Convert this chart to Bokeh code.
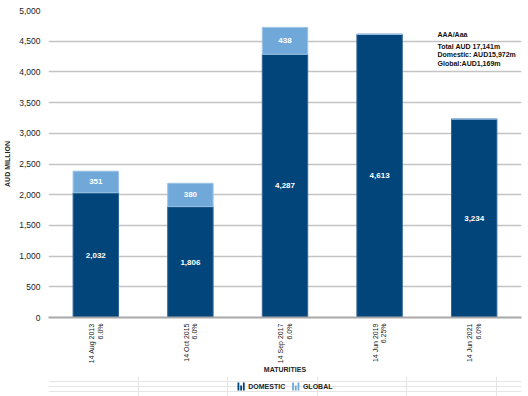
import math
from bokeh.plotting import figure
from bokeh.layouts import column
from bokeh.models import (Range1d, FactorRange, Label, ColumnDataSource,
                          NumeralTickFormatter, FixedTicker)
from bokeh.core.properties import value
from bokeh.embed import file_html
from bokeh.resources import INLINE

# ---- data ----
maturities = ["14 Aug 2013", "14 Oct 2015", "14 Sep 2017", "14 Jun 2019", "14 Jun 2021"]
coupons = ["6.0%", "6.0%", "6.0%", "6.25%", "6.0%"]
domestic = [2032, 1806, 4287, 4613, 3234]
global_ = [351, 380, 438, 0, 0]
y_ticks = [0, 500, 1000, 1500, 2000, 2500, 3000, 3500, 4000, 4500, 5000]
note_title = "AAA/Aaa"
note_lines = ["Total AUD 17,141m", "Domestic: AUD15,972m", "Global:AUD1,169m"]
series_names = ["DOMESTIC", "GLOBAL"]

DARK = "#02457a"
LIGHT = "#70a8d9"
FONT = "Liberation Sans"
TXT = "#222222"

cats = [m + "\n" + c for m, c in zip(maturities, coupons)]
src = ColumnDataSource(dict(cat=cats, domestic=domestic, glob=global_))

p = figure(x_range=FactorRange(*cats), y_range=Range1d(0, 5000),
           width=528, height=376,
           output_backend="svg", toolbar_location=None,
           min_border_left=48, min_border_top=10, min_border_right=7,
           min_border_bottom=0, outline_line_color=None,
           background_fill_color="white", border_fill_color="white")

rs = p.vbar_stack(["domestic", "glob"], x="cat", width=0.48, source=src,
                  fill_color=[DARK, LIGHT], line_color=["#33689a", "#9cc3e6"],
                  line_width=1)

# value labels
dom_src = ColumnDataSource(dict(
    x=cats, y=[d / 2 for d in domestic],
    t=["{:,}".format(d) for d in domestic]))
gx, gy, gt = [], [], []
for c, d, g in zip(cats, domestic, global_):
    if g > 0:
        gx.append(c); gy.append(d + g / 2); gt.append("{:,}".format(g))
glob_src = ColumnDataSource(dict(x=gx, y=gy, t=gt))
for s in (dom_src, glob_src):
    p.text(x="x", y="y", text="t", source=s, text_color="white",
           text_font=value(FONT), text_font_style="bold",
           text_font_size="8px", text_align="center", text_baseline="middle")

# axes
p.xgrid.grid_line_color = None
p.ygrid.grid_line_color = "#c4c4c4"
p.ygrid.grid_line_width = 1.5
p.yaxis.ticker = FixedTicker(ticks=y_ticks)
p.yaxis.formatter = NumeralTickFormatter(format="0,0")
p.yaxis.axis_line_color = None
p.yaxis.major_tick_line_color = None
p.yaxis.minor_tick_line_color = None
p.yaxis.major_tick_out = 0
p.yaxis.major_tick_in = 0
p.yaxis.minor_tick_out = 0
p.yaxis.major_label_standoff = 8
p.yaxis.major_label_text_font = FONT
p.yaxis.major_label_text_font_size = "8.5px"
p.yaxis.major_label_text_color = TXT
p.yaxis.axis_label = "AUD MILLION"
p.yaxis.axis_label_text_font = FONT
p.yaxis.axis_label_text_font_style = "bold"
p.yaxis.axis_label_text_font_size = "7px"
p.yaxis.axis_label_text_color = TXT
p.yaxis.axis_label_standoff = 5

p.xaxis.axis_line_color = "#a8a8a8"
p.xaxis.axis_line_width = 2
p.xaxis.major_tick_line_color = None
p.xaxis.minor_tick_line_color = None
p.xaxis.major_tick_out = 0
p.xaxis.major_tick_in = 0
p.xaxis.minor_tick_out = 0
p.xaxis.major_label_orientation = math.pi / 2
p.xaxis.major_label_text_font = FONT
p.xaxis.major_label_text_font_size = "7px"
p.xaxis.major_label_text_color = TXT
p.xaxis.major_label_text_line_height = 1.25
p.xaxis.major_label_standoff = 6
p.xaxis.axis_label = "MATURITIES"
p.xaxis.axis_label_text_font = FONT
p.xaxis.axis_label_text_font_style = "bold"
p.xaxis.axis_label_text_font_size = "7px"
p.xaxis.axis_label_text_color = TXT
p.xaxis.axis_label_standoff = 0

# note
p.add_layout(Label(x=389, y=4610, x_units="screen", y_units="data",
                   text=note_title, text_font=FONT, text_font_style="bold",
                   text_font_size="7px", text_color="#111111",
                   text_align="left", text_baseline="middle"))
p.add_layout(Label(x=389, y=4472, x_units="screen", y_units="data",
                   text="\n".join(note_lines), text_font=FONT,
                   text_font_style="bold", text_line_height=1.2,
                   text_font_size="7px", text_color="#111111",
                   text_align="left", text_baseline="top"))

# ---- legend strip (separate small figure below the chart) ----
lg = figure(width=528, height=20, x_range=Range1d(0, 528), y_range=Range1d(0, 20),
            output_backend="svg", toolbar_location=None,
            x_axis_location=None, y_axis_location=None,
            min_border=0, min_border_left=0, min_border_right=0,
            min_border_top=0, min_border_bottom=0,
            outline_line_color=None, background_fill_color="white",
            border_fill_color="white")
icon_left = [211, 272]
bar_heights = [8, 5, 8]
for x0, col, name in zip(icon_left, [DARK, LIGHT], series_names):
    lefts = [x0 + 3 * i for i in range(3)]
    lg.quad(left=lefts, right=[l + 2 for l in lefts],
            bottom=[6] * 3, top=[6 + h for h in bar_heights],
            fill_color=col, line_color=None)
    lg.text(x=[x0 + 12], y=[10], text=[name], text_font=value(FONT),
            text_font_style="bold", text_font_size="7px", text_color=TXT,
            text_align="left", text_baseline="middle")

open("out.html", "w").write(file_html(column(p, lg, spacing=0), INLINE))
